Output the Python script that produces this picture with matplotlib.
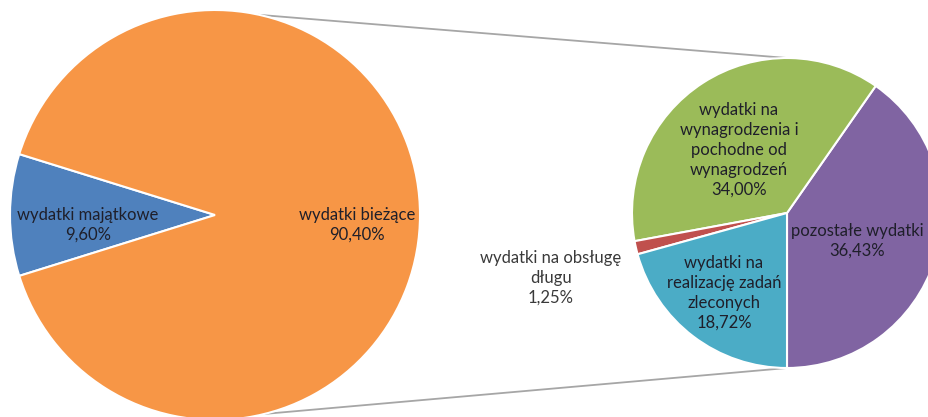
import numpy as np
import matplotlib.pyplot as plt

plt.rcParams['font.family'] = ['Lato', 'DejaVu Sans']

# Main pie: total expenditure
main_names = ['wydatki majątkowe', 'wydatki bieżące']
main_values = [9.60, 90.40]
main_colors = ['#4F81BD', '#F79646']

# Second pie: breakdown of "wydatki bieżące"
sub_names = ['pozostałe wydatki',
             'wydatki na\nwynagrodzenia i\npochodne od\nwynagrodzeń',
             'wydatki na obsługę\ndługu',
             'wydatki na\nrealizację zadań\nzleconych']
sub_values = [36.43, 34.00, 1.25, 18.72]
sub_colors = ['#8064A2', '#9BBB59', '#C0504D', '#4BACC6']


def pct(v):
    return f'{v:.2f}%'.replace('.', ',')


W, H = 929, 417
fig = plt.figure(figsize=(W / 100, H / 100), dpi=100)
ax = fig.add_axes([0, 0, 1, 1])

# layout (pixel coords, y measured from top)
big_c, big_r = (215, 215), 205
small_c, small_r = (787, 213), 155


def to_data(p):
    return (p[0], H - p[1])


wp = dict(edgecolor='white', linewidth=1.5)
ax.pie(main_values, colors=main_colors, center=to_data(big_c), radius=big_r,
       startangle=180 - main_values[0] / 100 * 360 / 2, wedgeprops=wp)
ax.pie(sub_values, colors=sub_colors, center=to_data(small_c), radius=small_r,
       startangle=-90, wedgeprops=wp)

# connector lines between the two pies
bc = np.array(to_data(big_c), dtype=float)
sc = np.array(to_data(small_c), dtype=float)
for a_big, a_small in [(77.5, 90), (-76, -90)]:
    p1 = bc + big_r * np.array([np.cos(np.radians(a_big)), np.sin(np.radians(a_big))])
    p2 = sc + small_r * np.array([np.cos(np.radians(a_small)), np.sin(np.radians(a_small))])
    ax.plot([p1[0], p2[0]], [p1[1], p2[1]], color='#A6A6A6', lw=1.3, zorder=0)

# labels
main_pos = [(88, 225), (357, 225)]
sub_pos = [(857, 241), (739, 150), (551, 278), (724, 293)]
txt = dict(ha='center', va='center', fontsize=12, linespacing=1.3)
for name, v, pos in zip(main_names, main_values, main_pos):
    ax.text(*to_data(pos), f'{name}\n{pct(v)}', color='#1F1F2A', **txt)
for i, (name, v, pos) in enumerate(zip(sub_names, sub_values, sub_pos)):
    col = '#3A3A3A' if i == 2 else '#1F1F2A'
    ax.text(*to_data(pos), f'{name}\n{pct(v)}', color=col, **txt)

ax.set_xlim(0, W)
ax.set_ylim(0, H)
ax.set_aspect('equal')
ax.axis('off')

fig.savefig('out.png', dpi=100)
